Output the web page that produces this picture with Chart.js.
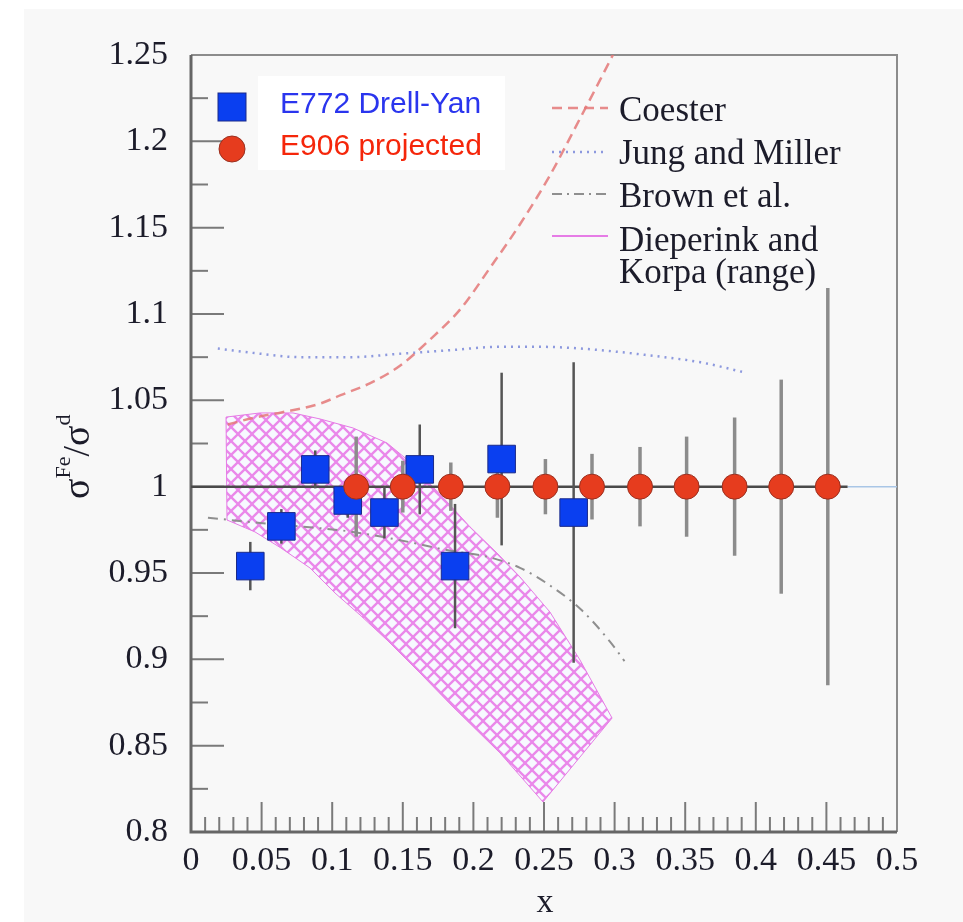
<!DOCTYPE html>
<html><head><meta charset="utf-8">
<script src="https://cdn.jsdelivr.net/npm/chart.js@4.4.1/dist/chart.umd.min.js"></script>
<style>html,body{margin:0;padding:0;background:#fff;}#wrap{width:963px;height:922px;position:relative;}</style>
</head><body><div id="wrap"><canvas id="c" width="963" height="922"></canvas></div>
<script>
// ---- data ----
const e772X   = [0.042, 0.064, 0.088, 0.111, 0.137, 0.162, 0.187, 0.220, 0.271];
const e772Y   = [0.954, 0.977, 1.010, 0.992, 0.985, 1.010, 0.954, 1.016, 0.985];
const e772Err = [0.014, 0.010, 0.011, 0.010, 0.015, 0.026, 0.036, 0.050, 0.087];

const e906X   = [0.117, 0.150, 0.184, 0.217, 0.251, 0.284, 0.318, 0.351, 0.385, 0.418, 0.451];
const e906Y   = [1, 1, 1, 1, 1, 1, 1, 1, 1, 1, 1];
const e906Err = [0.029, 0.015, 0.014, 0.018, 0.016, 0.019, 0.023, 0.029, 0.040, 0.062, 0.115];

const coesterX = [0.026, 0.045, 0.064, 0.091, 0.106, 0.127, 0.148, 0.169, 0.191, 0.212, 0.233, 0.254, 0.276, 0.290, 0.300];
const coesterY = [1.036, 1.040, 1.043, 1.048, 1.053, 1.060, 1.070, 1.085, 1.103, 1.127, 1.152, 1.180, 1.214, 1.236, 1.252];

const jungX = [0.019, 0.049, 0.077, 0.113, 0.148, 0.183, 0.219, 0.247, 0.276, 0.325, 0.361, 0.393];
const jungY = [1.080, 1.077, 1.075, 1.075, 1.077, 1.079, 1.081, 1.081, 1.080, 1.076, 1.072, 1.066];

const brownX = [0.012, 0.049, 0.077, 0.113, 0.148, 0.183, 0.212, 0.233, 0.252, 0.276, 0.297, 0.307];
const brownY = [0.982, 0.979, 0.977, 0.974, 0.969, 0.963, 0.959, 0.953, 0.944, 0.929, 0.910, 0.899];

const bandUpperX = [0.0248, 0.0489, 0.0722, 0.0914, 0.1147, 0.1388, 0.1551, 0.1693, 0.1834, 0.1976, 0.2167, 0.2330, 0.2542, 0.2755, 0.2982];
const bandUpperY = [1.0403, 1.0427, 1.0427, 1.0392, 1.0340, 1.0253, 1.0143, 1.0016, 0.9894, 0.9767, 0.9616, 0.9477, 0.9274, 0.8996, 0.8660];
const bandLowerX = [0.0255, 0.0453, 0.0637, 0.0843, 0.1020, 0.1197, 0.1388, 0.1622, 0.1856, 0.2188, 0.2493];
const bandLowerY = [0.9807, 0.9738, 0.9645, 0.9529, 0.9384, 0.9257, 0.9112, 0.8921, 0.8724, 0.8458, 0.8174];

const unityX = [0, 0.465];
const unityTailX = [0.465, 0.5];
const unityY = [1, 1];

const xTickVals = [0, 0.05, 0.1, 0.15, 0.2, 0.25, 0.3, 0.35, 0.4, 0.45, 0.5];
const xTickLabels = ['0', '0.05', '0.1', '0.15', '0.2', '0.25', '0.3', '0.35', '0.4', '0.45', '0.5'];
const yTickVals = [0.8, 0.85, 0.9, 0.95, 1, 1.05, 1.1, 1.15, 1.2, 1.25];
const yTickLabels = ['0.8', '0.85', '0.9', '0.95', '1', '1.05', '1.1', '1.15', '1.2', '1.25'];

const legendLeft = ['E772 Drell-Yan', 'E906 projected'];
const legendRight = ['Coester', 'Jung and Miller', 'Brown et al.', 'Dieperink and', 'Korpa (range)'];

// ---- helpers ----
const pts = (xs, ys) => xs.map((x, i) => ({x: x, y: ys[i]}));
const bandPts = pts(bandUpperX, bandUpperY).concat(pts(bandLowerX, bandLowerY).reverse());
bandPts.push({x: bandUpperX[0], y: bandUpperY[0]});

function hatch() {
  const s = 14, c = document.createElement('canvas');
  c.width = s; c.height = s;
  const g = c.getContext('2d');
  g.fillStyle = '#f7f9ff'; g.fillRect(0, 0, s, s);
  g.strokeStyle = '#ea88ea'; g.lineWidth = 2.3;
  for (let k = -1; k <= 1; k++) {
    g.beginPath(); g.moveTo(k * s, 0); g.lineTo(k * s + s, s); g.stroke();
    g.beginPath(); g.moveTo(k * s + s, 0); g.lineTo(k * s, s); g.stroke();
  }
  return document.getElementById('c').getContext('2d').createPattern(c, 'repeat');
}

const labelFor = (vals, labels) => (v) => {
  const i = vals.findIndex(t => Math.abs(t - v) < 1e-6);
  return i >= 0 ? labels[i] : '';
};

const COL_COESTER = 'rgba(228,120,120,0.85)';
const COL_JUNG = '#8d99de';
const COL_BROWN = '#8f8f8f';
const COL_BAND = '#e67ce6';

const deco = {
  id: 'deco',
  beforeDraw(chart) {
    const ctx = chart.ctx;
    ctx.save();
    ctx.fillStyle = '#ffffff'; ctx.fillRect(0, 0, chart.width, chart.height);
    ctx.fillStyle = '#f8f8f8'; ctx.fillRect(24, 9, chart.width - 24, chart.height - 9);
    ctx.restore();
  },
  beforeDatasetsDraw(chart) {
    const ctx = chart.ctx, a = chart.chartArea, xs = chart.scales.x, ys = chart.scales.y;
    ctx.save();
    ctx.strokeStyle = '#7a7a7a';
    for (let i = 0; i <= 50; i++) {
      const px = xs.getPixelForValue(i / 100);
      const len = (i % 5 === 0) ? 30 : 15;
      ctx.lineWidth = 2;
      ctx.beginPath(); ctx.moveTo(px, a.bottom); ctx.lineTo(px, a.bottom - len); ctx.stroke();
    }
    for (let j = 0; j <= 18; j++) {
      const py = ys.getPixelForValue(0.8 + j * 0.025);
      const len = (j % 2 === 0) ? 33 : 17;
      ctx.lineWidth = 2;
      ctx.beginPath(); ctx.moveTo(a.left, py); ctx.lineTo(a.left + len, py); ctx.stroke();
    }
    ctx.strokeStyle = '#8c8c8c'; ctx.lineWidth = 2;
    ctx.beginPath(); ctx.moveTo(a.left, a.top); ctx.lineTo(a.right, a.top); ctx.lineTo(a.right, a.bottom); ctx.stroke();
    ctx.strokeStyle = '#666'; ctx.lineWidth = 3;
    ctx.beginPath(); ctx.moveTo(a.left, a.top); ctx.lineTo(a.left, a.bottom); ctx.lineTo(a.right, a.bottom); ctx.stroke();
    ctx.restore();
  },
  beforeDatasetDraw(chart, args) {
    if (args.index !== 1) return;
    const ctx = chart.ctx, xs = chart.scales.x, ys = chart.scales.y;
    ctx.save();
    ctx.lineCap = 'butt';
    ctx.strokeStyle = '#8c8c8c'; ctx.lineWidth = 3.5;
    e906X.forEach((x, i) => {
      const px = xs.getPixelForValue(x);
      ctx.beginPath();
      ctx.moveTo(px, ys.getPixelForValue(e906Y[i] - e906Err[i]));
      ctx.lineTo(px, ys.getPixelForValue(e906Y[i] + e906Err[i]));
      ctx.stroke();
    });
    ctx.strokeStyle = '#555'; ctx.lineWidth = 2.5;
    e772X.forEach((x, i) => {
      const px = xs.getPixelForValue(x);
      ctx.beginPath();
      ctx.moveTo(px, ys.getPixelForValue(e772Y[i] - e772Err[i]));
      ctx.lineTo(px, ys.getPixelForValue(e772Y[i] + e772Err[i]));
      ctx.stroke();
    });
    ctx.restore();
  },
  afterDatasetsDraw(chart) {
    const ctx = chart.ctx;
    ctx.save();
    ctx.fillStyle = '#0a3ff0'; ctx.strokeStyle = '#1a2a8a'; ctx.lineWidth = 1;
    ctx.fillRect(218, 93, 28, 28); ctx.strokeRect(218, 93, 28, 28);
    ctx.fillStyle = '#e63c1e'; ctx.strokeStyle = '#9a3020';
    ctx.beginPath(); ctx.arc(232, 149, 13, 0, Math.PI * 2); ctx.fill(); ctx.stroke();
    ctx.fillStyle = '#ffffff'; ctx.fillRect(258, 76, 247, 94);
    ctx.font = '30px "Liberation Sans", Arial, sans-serif';
    ctx.textBaseline = 'alphabetic'; ctx.textAlign = 'left';
    ctx.fillStyle = '#2a35ee'; ctx.fillText(legendLeft[0], 280, 113);
    ctx.fillStyle = '#f5260a'; ctx.fillText(legendLeft[1], 280, 155);

    const x0 = 552, x1 = 608;
    ctx.lineWidth = 2.5;
    ctx.strokeStyle = COL_COESTER; ctx.setLineDash([10, 6]);
    ctx.beginPath(); ctx.moveTo(x0, 108); ctx.lineTo(x1, 108); ctx.stroke();
    ctx.strokeStyle = COL_JUNG; ctx.setLineDash([2, 5]);
    ctx.beginPath(); ctx.moveTo(x0, 152); ctx.lineTo(x1, 152); ctx.stroke();
    ctx.strokeStyle = COL_BROWN; ctx.setLineDash([10, 5, 2, 5]); ctx.lineWidth = 2;
    ctx.beginPath(); ctx.moveTo(x0, 194); ctx.lineTo(x1, 194); ctx.stroke();
    ctx.strokeStyle = COL_BAND; ctx.setLineDash([]); ctx.lineWidth = 2;
    ctx.beginPath(); ctx.moveTo(x0, 236); ctx.lineTo(x1, 236); ctx.stroke();
    ctx.fillStyle = '#1c1c2a';
    ctx.font = '35px "Liberation Serif", "Times New Roman", serif';
    ctx.fillText(legendRight[0], 619, 121);
    ctx.fillText(legendRight[1], 619, 164);
    ctx.fillText(legendRight[2], 619, 207);
    ctx.fillText(legendRight[3], 619, 251);
    ctx.fillText(legendRight[4], 619, 283);

    ctx.textAlign = 'center'; ctx.textBaseline = 'middle';
    ctx.font = '34px "Liberation Serif", serif';
    ctx.fillText('x', 545, 903);

    ctx.translate(89, 499); ctx.rotate(-Math.PI / 2);
    ctx.textAlign = 'left'; ctx.textBaseline = 'alphabetic';
    const big = '38px "Liberation Serif", serif', small = '22px "Liberation Serif", serif';
    let cx = 0;
    const part = (t, f, dy) => { ctx.font = f; ctx.fillText(t, cx, dy); cx += ctx.measureText(t).width; };
    part('σ', big, 0); part('Fe', small, -19); part('/', big, 0); part('σ', big, 0); part('d', small, -19);
    ctx.restore();
  }
};

new Chart(document.getElementById('c'), {
  type: 'scatter',
  data: {
    datasets: [
      { label: legendLeft[1], data: pts(e906X, e906Y), pointStyle: 'circle', pointRadius: 12.5,
        backgroundColor: '#e63c1e', borderColor: '#9a3020', borderWidth: 1, showLine: false },
      { label: legendLeft[0], data: pts(e772X, e772Y), pointStyle: 'rect', pointRadius: 19.5,
        backgroundColor: '#0a3ff0', borderColor: '#1a2a8a', borderWidth: 1, showLine: false },
      { label: 'unity', data: pts(unityX, unityY), showLine: true, pointRadius: 0,
        borderColor: '#4a4a4a', borderWidth: 2.5 },
      { label: 'unity tail', data: pts(unityTailX, unityY), showLine: true, pointRadius: 0,
        borderColor: '#a9c6e6', borderWidth: 1.5 },
      { label: legendRight[0], data: pts(coesterX, coesterY), showLine: true, pointRadius: 0,
        borderColor: COL_COESTER, borderWidth: 2.5, borderDash: [10, 6], cubicInterpolationMode: 'monotone' },
      { label: legendRight[1], data: pts(jungX, jungY), showLine: true, pointRadius: 0,
        borderColor: COL_JUNG, borderWidth: 2.5, borderDash: [2, 5], cubicInterpolationMode: 'monotone' },
      { label: legendRight[2], data: pts(brownX, brownY), showLine: true, pointRadius: 0,
        borderColor: COL_BROWN, borderWidth: 2, borderDash: [10, 6, 2, 6], cubicInterpolationMode: 'monotone' },
      { label: 'Dieperink and Korpa (range)', data: bandPts, showLine: true, pointRadius: 0, tension: 0,
        borderColor: COL_BAND, borderWidth: 1, backgroundColor: hatch(), fill: 'shape' }
    ]
  },
  options: {
    responsive: false, animation: false, events: [],
    layout: { padding: { top: 55, right: 66, left: 0, bottom: 0 } },
    plugins: { legend: { display: false }, tooltip: { enabled: false } },
    scales: {
      x: {
        type: 'linear', min: 0, max: 0.5,
        grid: { display: false, drawTicks: false }, border: { display: false },
        ticks: { stepSize: 0.05, autoSkip: false, maxRotation: 0, padding: 9, color: '#1c1c2a',
          font: { family: '"Liberation Serif", serif', size: 34 }, callback: labelFor(xTickVals, xTickLabels) },
        afterFit: (s) => { s.height = 90; }
      },
      y: {
        type: 'linear', min: 0.8, max: 1.25,
        grid: { display: false, drawTicks: false }, border: { display: false },
        ticks: { stepSize: 0.05, autoSkip: false, padding: 23, color: '#1c1c2a',
          font: { family: '"Liberation Serif", serif', size: 34 }, callback: labelFor(yTickVals, yTickLabels) },
        afterFit: (s) => { s.width = 191; }
      }
    }
  },
  plugins: [deco]
});
</script>
</body></html>
